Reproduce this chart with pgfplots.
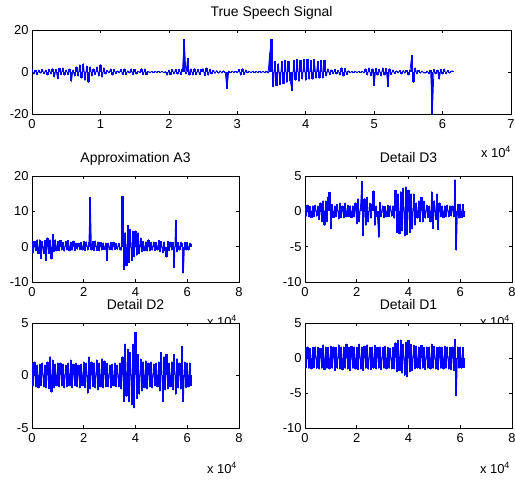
\documentclass[border=0pt]{standalone}
\usepackage{fontspec}
\setmainfont{Liberation Sans}
\usepackage{pgfplots}
\usepackage{pgfplotstable}
\pgfplotsset{compat=1.18}
\pgfplotsset{
  mat/.style={
    scale only axis, anchor=south west, width=207bp, height=106bp,
    axis line style={black, line width=0.8bp},
    tick align=inside, xtick pos=both, ytick pos=both,
    major tick length=3bp, tick style={black, line width=0.6bp},
    tick label style={font=\fontsize{13}{13}\selectfont, text=black},
    xticklabel style={yshift=-2bp},
    title style={font=\fontsize{14}{14}\selectfont, at={(0.5,1)}, anchor=base, yshift=7.5bp},
    xmin=0, xmax=8, xtick={0,2,4,6,8}, xticklabels={0,2,4,6,8},
    axis background/.style={fill=white},
  },
  sig/.style={color=blue, line width=0.8bp, sharp plot, mark=none, line join=round},
  comb/.style={color=blue, line width=2.2bp, ycomb, mark=none},
}
\newcommand{\xlab}{x 10\raisebox{5bp}{\fontsize{9}{9}\selectfont 4}}
% True speech signal, one value every 250 samples (0.025 x 10^4)
\pgfplotstableread[row sep=\\, header=false]{
1.2\\-1.0\\0.8\\-1.3\\1.0\\-0.6\\1.2\\-0.8\\0.9\\-1.5\\
1.4\\-1.0\\1.6\\-2.5\\1.2\\-3.2\\1.8\\-1.2\\2.0\\-1.5\\
1.0\\-1.2\\1.5\\-4.5\\1.0\\-2.0\\2.5\\-2.0\\3.5\\-3.0\\
4.0\\-4.0\\3.0\\-5.0\\2.5\\-2.0\\1.5\\-1.2\\2.5\\-2.0\\
3.5\\-2.5\\2.0\\-1.0\\0.8\\-0.5\\1.5\\-1.5\\1.2\\-0.8\\
0.5\\-0.4\\1.4\\-1.3\\1.5\\-1.2\\0.6\\-0.5\\1.5\\-1.4\\
1.2\\-1.0\\0.4\\-0.3\\1.6\\-1.3\\1.5\\-1.2\\0.3\\-0.3\\
0.3\\-0.2\\0.3\\-0.2\\0.3\\-0.2\\0.3\\-0.3\\0.2\\-1.6\\
1.0\\-1.2\\1.3\\-1.0\\1.2\\-1.1\\1.3\\-1.2\\1.2\\15.5\\
-1.0\\6.5\\-1.5\\1.5\\-1.5\\1.6\\-1.4\\1.3\\-1.2\\1.2\\
1.5\\-1.8\\2.0\\-1.6\\1.4\\-1.0\\0.8\\-0.7\\0.7\\-0.6\\
0.6\\-0.5\\0.6\\-0.5\\-8.0\\0.5\\-0.4\\0.4\\-0.3\\0.4\\
-0.4\\1.2\\-1.5\\1.6\\-1.3\\1.0\\-0.4\\0.3\\-0.3\\0.3\\
-0.3\\0.3\\-0.3\\0.3\\-0.3\\0.3\\-0.3\\0.3\\-0.5\\9.0\\
15.5\\-7.0\\5.0\\-6.5\\4.0\\-6.0\\5.0\\-5.5\\5.5\\-5.0\\
5.0\\-4.5\\-9.0\\5.5\\-4.0\\6.0\\-4.5\\5.5\\-3.5\\6.0\\
-4.0\\6.0\\-3.5\\5.5\\-3.5\\6.0\\-3.0\\5.0\\-3.0\\5.5\\
-3.0\\5.5\\-2.0\\1.5\\-1.2\\1.0\\-1.0\\1.2\\-1.0\\0.8\\
-1.5\\2.0\\-2.0\\1.8\\-1.2\\0.6\\-0.4\\0.3\\-0.3\\0.3\\
-0.3\\0.3\\-0.3\\0.4\\-0.5\\1.5\\-1.5\\2.0\\-1.8\\1.5\\
-6.5\\1.8\\-1.5\\1.2\\-2.0\\2.0\\-1.5\\1.8\\-7.0\\1.5\\
-1.2\\1.0\\-0.8\\0.6\\-0.5\\0.8\\-1.0\\0.7\\-0.6\\0.8\\
-1.5\\1.0\\8.0\\-5.0\\2.0\\-1.0\\0.8\\-0.6\\0.5\\-0.5\\
-0.5\\0.5\\-1.0\\0.8\\-20\\1.2\\-1.0\\0.9\\-3.5\\1.2\\
-1.0\\1.5\\-1.0\\0.8\\-0.6\\0.5\\0.5\\
}\tTop
% Approximation A3, Details D3, D2, D1: one value every 500 samples (0.05 x 10^4)
\pgfplotstableread[row sep=\\, header=false]{
1.5\\-1.8\\1.5\\-1.2\\2.0\\-2.0\\2.0\\-3.5\\1.5\\-2.0\\
1.8\\-4.0\\2.5\\-2.0\\2.0\\-3.5\\3.5\\-1.5\\2.0\\-1.2\\
1.5\\-1.2\\1.8\\-1.0\\1.2\\-1.3\\1.5\\-1.0\\1.8\\-1.2\\
1.3\\-1.0\\1.6\\-1.1\\1.0\\-0.8\\1.0\\-0.9\\1.2\\-1.0\\
1.5\\-1.2\\1.4\\-1.0\\1.2\\14.0\\-1.0\\1.5\\-1.2\\1.6\\
-1.1\\1.4\\-1.2\\1.2\\-1.0\\1.1\\-0.9\\1.0\\-4.0\\1.0\\
-0.9\\1.2\\-1.0\\1.3\\-0.9\\1.0\\-0.8\\1.0\\-0.9\\-1.0\\
14.2\\-6.5\\4.0\\-5.5\\6.0\\-4.5\\5.0\\-4.0\\4.5\\-3.0\\
4.5\\-2.5\\4.0\\-2.0\\2.5\\-1.5\\1.5\\-1.2\\1.4\\-1.3\\
2.0\\-1.2\\1.2\\-1.0\\1.3\\-1.1\\1.2\\-1.0\\1.8\\-1.5\\
1.5\\-1.8\\1.4\\-1.2\\-3.0\\1.5\\-1.2\\1.3\\-1.0\\1.2\\
-6.0\\7.5\\-1.5\\1.2\\-1.0\\1.2\\1.0\\-7.5\\1.2\\-1.0\\
1.2\\-1.0\\1.0\\0.8\\
}\tAThree
\pgfplotstableread[row sep=\\, header=false]{
0.8\\-0.7\\0.9\\-0.8\\0.7\\-0.9\\0.8\\-0.8\\0.9\\-0.7\\
0.8\\-1.2\\1.2\\-1.5\\1.5\\-2.0\\1.5\\-1.5\\2.0\\2.7\\
-2.5\\1.0\\-0.9\\0.8\\-0.8\\1.0\\-1.1\\1.2\\-0.9\\0.8\\
-0.9\\1.2\\-0.8\\0.9\\-0.8\\0.8\\-0.9\\0.8\\-0.8\\1.2\\
-1.8\\1.8\\-1.5\\1.0\\4.3\\-3.5\\1.8\\-2.0\\2.0\\-1.5\\
1.2\\-1.0\\1.0\\2.9\\-2.0\\0.8\\-0.8\\-3.7\\1.3\\-0.8\\
0.8\\-0.9\\0.7\\-0.8\\0.9\\-0.8\\0.8\\-0.7\\0.8\\-1.0\\
3.0\\-3.0\\2.5\\-3.2\\2.8\\-2.8\\3.3\\-3.5\\3.5\\-3.3\\
3.0\\-3.0\\2.5\\-2.5\\2.5\\-2.0\\1.2\\-1.0\\1.5\\-1.5\\
2.0\\-1.5\\1.5\\-1.0\\0.9\\-0.9\\0.8\\-1.5\\2.8\\-2.5\\
1.5\\-1.2\\2.5\\-2.6\\1.2\\-0.8\\0.8\\-0.9\\0.8\\-0.8\\
0.9\\-0.8\\0.8\\-0.7\\0.8\\-0.8\\4.5\\-5.5\\1.0\\-1.0\\
1.0\\-0.9\\1.0\\-0.8\\
}\tDThree
\pgfplotstableread[row sep=\\, header=false]{
1.2\\-1.0\\1.3\\-1.1\\1.0\\-1.2\\1.1\\-1.0\\1.2\\-1.1\\
1.0\\-1.2\\1.3\\-1.3\\1.8\\-1.6\\1.5\\-1.2\\1.1\\-1.0\\
1.2\\-1.1\\1.2\\-1.0\\1.1\\-1.2\\1.0\\-1.1\\1.2\\-1.0\\
1.5\\-1.2\\1.1\\-1.0\\1.2\\-1.1\\1.0\\-1.2\\1.1\\-1.0\\
1.3\\-1.2\\1.2\\-1.7\\1.8\\-1.3\\1.3\\-1.1\\1.2\\-1.2\\
1.5\\-1.4\\1.2\\-1.1\\1.6\\-1.2\\1.4\\-1.1\\1.2\\-1.1\\
1.0\\-1.2\\1.1\\-1.0\\1.2\\-1.1\\1.0\\-1.1\\1.2\\-1.3\\
1.8\\-2.5\\3.0\\-2.0\\2.5\\-2.5\\2.2\\-2.8\\3.0\\-3.1\\
4.1\\-2.2\\2.0\\-1.8\\1.6\\-1.5\\1.3\\-1.2\\1.4\\-1.3\\
1.2\\-1.1\\1.3\\-1.2\\1.1\\-1.0\\1.2\\-1.1\\1.3\\-1.5\\
2.2\\-2.5\\1.8\\-1.4\\2.0\\-1.3\\1.2\\-1.1\\1.3\\-1.4\\
2.0\\-1.8\\1.6\\-1.2\\1.2\\-1.3\\2.8\\-2.5\\1.3\\-1.2\\
1.2\\-1.1\\1.2\\-1.0\\
}\tDTwo
\pgfplotstableread[row sep=\\, header=false]{
1.5\\-1.4\\1.6\\-1.5\\1.4\\-1.6\\1.5\\-1.4\\1.6\\-1.5\\
1.5\\-1.6\\1.4\\-1.5\\1.9\\-1.7\\1.6\\-1.5\\1.5\\-1.6\\
1.7\\-1.5\\1.6\\-1.8\\1.5\\-1.5\\1.9\\-1.6\\1.6\\-1.7\\
1.6\\-1.5\\2.0\\-1.6\\1.5\\-1.8\\1.7\\-1.5\\1.6\\-1.6\\
1.5\\-1.7\\2.0\\-1.6\\1.6\\-1.8\\1.7\\-1.5\\1.9\\-1.6\\
1.5\\-1.7\\1.6\\-1.5\\1.8\\-1.6\\1.5\\-1.5\\1.6\\-1.7\\
1.5\\-1.5\\1.7\\-1.6\\1.5\\-1.5\\1.4\\-1.6\\1.5\\-1.6\\
2.2\\-2.0\\2.5\\-1.8\\2.6\\-2.2\\2.0\\-2.5\\2.3\\-2.7\\
2.5\\-2.0\\2.0\\-1.8\\1.8\\-1.6\\1.7\\-1.5\\1.6\\-1.6\\
1.8\\-1.5\\1.5\\-1.7\\1.6\\-1.5\\1.6\\-1.6\\2.0\\-1.5\\
1.7\\-1.6\\1.5\\-1.7\\1.6\\-1.5\\1.5\\-1.6\\1.7\\-1.5\\
1.6\\-1.6\\1.5\\-1.7\\1.6\\-1.8\\2.7\\-5.4\\1.6\\-1.5\\
1.6\\-1.5\\1.5\\-1.4\\
}\tDOne
\begin{document}
\begin{tikzpicture}
\useasboundingbox (0,0) rectangle (515bp,481bp);
% ---------- True speech signal ----------
\begin{axis}[mat, name=top, at={(32bp,367bp)}, width=479bp, height=84bp,
  xmax=7, xtick={0,1,2,3,4,5,6,7}, xticklabels={0,1,2,3,4,5,6,7},
  ymin=-20, ymax=20, ytick={-20,0,20}, yticklabels={-20,0,20},
  title={True Speech Signal}]
\addplot[comb, line width=2.3bp] table[x expr=\coordindex*0.025, y index=0] {\tTop};
\addplot[sig, line width=0.8bp] table[x expr=\coordindex*0.025, y index=0] {\tTop};
\end{axis}
\node[anchor=base east, font=\fontsize{13}{13}\selectfont] at ([xshift=3bp,yshift=-44bp]top.south east) {\xlab};
% ---------- Approximation A3 ----------
\begin{axis}[mat, name=a3, at={(32bp,199bp)},
  ymin=-10, ymax=20, ytick={-10,0,10,20}, yticklabels={-10,0,10,20},
  title={Approximation A3}]
\addplot[comb] table[x expr=\coordindex*0.05, y index=0] {\tAThree};
\addplot[sig] table[x expr=\coordindex*0.05, y index=0] {\tAThree};
\end{axis}
\node[anchor=base east, font=\fontsize{13}{13}\selectfont] at ([xshift=1bp,yshift=-45bp]a3.south east) {\xlab};
% ---------- Detail D3 ----------
\begin{axis}[mat, name=d3, at={(305bp,199bp)},
  ymin=-10, ymax=5, ytick={-10,-5,0,5}, yticklabels={-10,-5,0,5},
  title={Detail D3}]
\addplot[comb] table[x expr=\coordindex*0.05, y index=0] {\tDThree};
\addplot[sig] table[x expr=\coordindex*0.05, y index=0] {\tDThree};
\end{axis}
\node[anchor=base east, font=\fontsize{13}{13}\selectfont] at ([xshift=1bp,yshift=-45bp]d3.south east) {\xlab};
% ---------- Detail D2 ----------
\begin{axis}[mat, name=d2, at={(32bp,53bp)}, height=105bp,
  ymin=-5, ymax=5, ytick={-5,0,5}, yticklabels={-5,0,5},
  title={Detail D2}]
\addplot[comb] table[x expr=\coordindex*0.05, y index=0] {\tDTwo};
\addplot[sig] table[x expr=\coordindex*0.05, y index=0] {\tDTwo};
\end{axis}
\node[anchor=base east, font=\fontsize{13}{13}\selectfont] at ([xshift=1bp,yshift=-45bp]d2.south east) {\xlab};
% ---------- Detail D1 ----------
\begin{axis}[mat, name=d1, at={(305bp,53bp)}, height=105bp,
  ymin=-10, ymax=5, ytick={-10,-5,0,5}, yticklabels={-10,-5,0,5},
  title={Detail D1}]
\addplot[comb] table[x expr=\coordindex*0.05, y index=0] {\tDOne};
\addplot[sig] table[x expr=\coordindex*0.05, y index=0] {\tDOne};
\end{axis}
\node[anchor=base east, font=\fontsize{13}{13}\selectfont] at ([xshift=1bp,yshift=-45bp]d1.south east) {\xlab};
\end{tikzpicture}
\end{document}
